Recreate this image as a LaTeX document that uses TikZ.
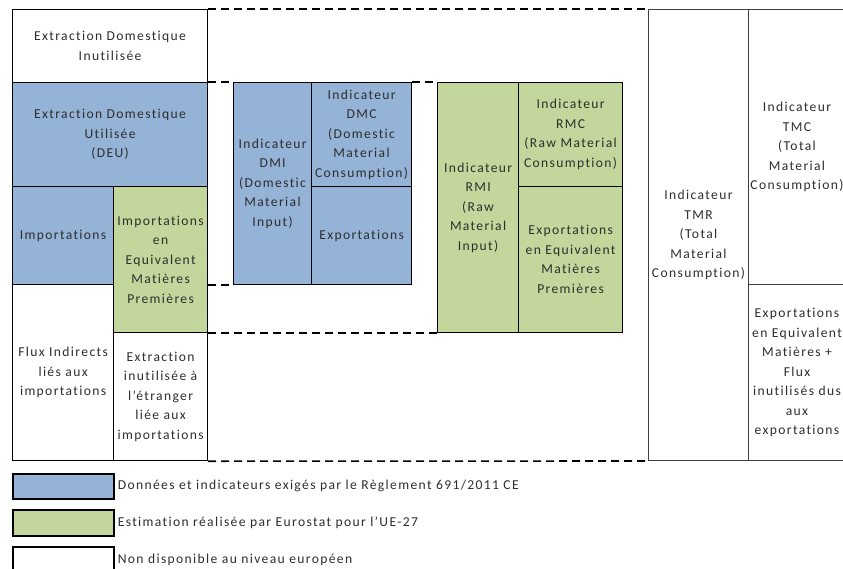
\documentclass[tikz,border=0pt]{standalone}
\usepackage{fontspec}
\setmainfont{Carlito}[LetterSpace=10, Ligatures=NoCommon]

\definecolor{regblue}{HTML}{95B3D7}
\definecolor{estgreen}{HTML}{C3D69B}
\definecolor{txtgray}{HTML}{2E2E2E}
\definecolor{rulegray}{HTML}{404040}

\tikzset{
  cell/.style={draw=black, line width=1.2pt, anchor=north west, inner sep=0pt,
    align=center, text=txtgray},
  rcell/.style={cell, draw=rulegray, line width=1pt},
  reg/.style={fill=regblue},
  est/.style={fill=estgreen},
  gap/.style={line width=1.6pt, dash pattern=on 8pt off 5pt},
  legbox/.style={draw=black, line width=1.6pt, anchor=north west, inner sep=0pt,
    minimum width=101pt},
}

\begin{document}
\begin{tikzpicture}[x=1pt,y=-1pt, font=\fontsize{13.6}{19.5}\selectfont]
\clip (0,0) rectangle (843,568);

% ===== Left column: domestic extraction and imports =====
\node[cell, minimum width=195pt, minimum height=73pt] (edi) at (12,9)
  {Extraction Domestique\\Inutilisée};
\node[cell, reg, minimum width=195pt, minimum height=104pt] (deu) at (12,82)
  {Extraction Domestique\\Utilisée\\(DEU)};
\node[cell, reg, minimum width=101pt, minimum height=98pt] (imp) at (12,186)
  {Importations};
\node[cell, est, minimum width=94pt, minimum height=146pt] (impemp) at (113,186)
  {Importations\\en\\Equivalent\\Matières\\Premières};
\node[cell, minimum width=101pt, minimum height=176pt] (flux) at (12,284)
  {Flux Indirects\\liés aux\\importations};
\node[cell, minimum width=94pt, minimum height=128pt] (extr) at (113,332)
  {Extraction\\inutilisée à\\l'étranger\\liée aux\\importations};

% ===== DMI / DMC =====
\node[cell, reg, minimum width=78pt, minimum height=202pt] (dmi) at (233,82)
  {Indicateur\\DMI\\(Domestic\\Material\\Input)};
\node[cell, reg, minimum width=100pt, minimum height=104pt] (dmc) at (311,82)
  {Indicateur\\DMC\\(Domestic\\Material\\Consumption)};
\node[cell, reg, minimum width=100pt, minimum height=98pt] (exp) at (311,186)
  {Exportations};

% ===== RMI / RMC =====
\node[cell, est, minimum width=81pt, minimum height=250pt] (rmi) at (437,82)
  {Indicateur\\RMI\\(Raw\\Material\\Input)};
\node[cell, est, minimum width=104pt, minimum height=104pt] (rmc) at (518,82)
  {Indicateur\\RMC\\(Raw Material\\Consumption)};
\node[cell, est, minimum width=104pt, minimum height=146pt] (expemp) at (518,186)
  {Exportations\\en Equivalent\\Matières\\Premières};

% ===== TMR / TMC =====
\node[rcell, minimum width=100pt, minimum height=451pt] (tmr) at (648,9)
  {Indicateur\\TMR\\(Total\\Material\\Consumption)};
\node[rcell, minimum width=97pt, minimum height=275pt] (tmc) at (748,9)
  {Indicateur\\TMC\\(Total\\Material\\Consumption)};
\node[rcell, minimum width=97pt, minimum height=176pt] (expflux) at (748,284)
  {Exportations\\en Equivalent\\Matières +\\Flux\\inutilisés dus\\aux\\exportations};

% dashed outlines between the blocks
\draw[gap] (edi.north east) -- (tmr.north west);
\draw[gap] (deu.north east) -- (dmi.north west);
\draw[gap] (dmc.north east) -- (rmi.north west);
\draw[gap] (dmi.south west -| impemp.east) -- (dmi.south west);
\draw[gap] (impemp.south east) -- (rmi.south west);
\draw[gap] (extr.south east) -- (tmr.south west);

% ===== Legend =====
\node[legbox, reg, minimum height=25pt] (leg1) at (12,473) {};
\node[legbox, est, minimum height=26pt] (leg2) at (12,509) {};
\node[legbox, minimum height=30pt] (leg3) at (12,546) {};
\node[anchor=west, inner sep=0pt, text=txtgray] (leg1txt) at ([xshift=3pt]leg1.east)
  {Données et indicateurs exigés par le Règlement 691/2011 CE};
\node[anchor=west, inner sep=0pt, text=txtgray] (leg2txt) at ([xshift=3pt]leg2.east)
  {Estimation réalisée par Eurostat pour l'UE-27};
\node[anchor=west, inner sep=0pt, text=txtgray] (leg3txt) at ([xshift=3pt,yshift=2pt]leg3.west -| leg3.east)
  {Non disponible au niveau européen};

\end{tikzpicture}
\end{document}
